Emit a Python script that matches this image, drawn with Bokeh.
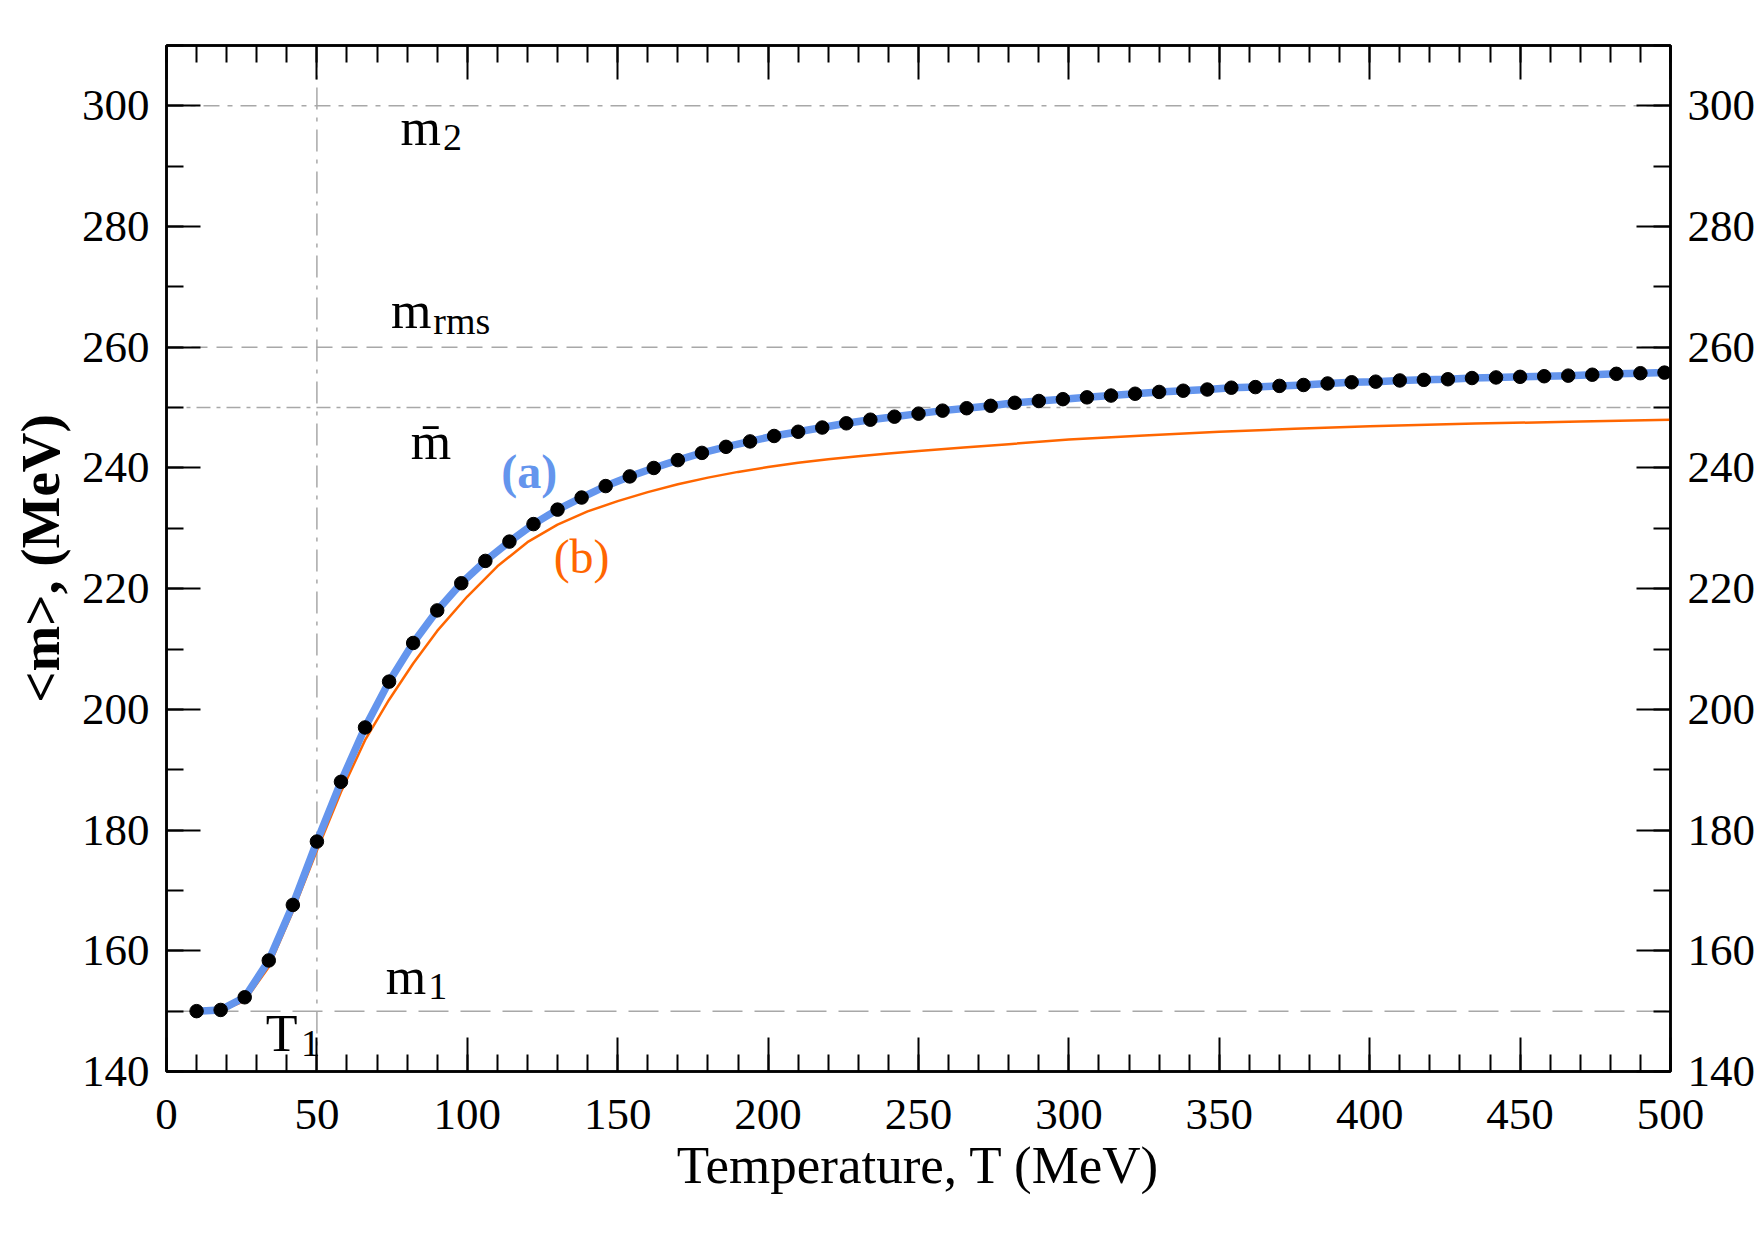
from bokeh.plotting import figure
from bokeh.models import Range1d, LinearAxis, SingleIntervalTicker, Span, Label, CustomJSTickFormatter
from bokeh.embed import file_html
from bokeh.resources import INLINE

# ---------------- data ----------------
t_dots = [10, 18, 26, 34, 42, 50, 58, 66, 74, 82,
          90, 98, 106, 114, 122, 130, 138, 146, 154, 162,
          170, 178, 186, 194, 202, 210, 218, 226, 234, 242,
          250, 258, 266, 274, 282, 290, 298, 306, 314, 322,
          330, 338, 346, 354, 362, 370, 378, 386, 394, 402,
          410, 418, 426, 434, 442, 450, 458, 466, 474, 482,
          490, 498]
m_dots = [150.0, 150.2, 152.3, 158.4, 167.6, 178.1, 188.0, 197.0, 204.6, 211.0,
          216.4, 220.9, 224.6, 227.8, 230.7, 233.1, 235.1, 237.0, 238.6, 240.0,
          241.3, 242.5, 243.5, 244.4, 245.3, 246.0, 246.7, 247.4, 248.0, 248.5,
          249.0, 249.5, 249.9, 250.3, 250.8, 251.1, 251.4, 251.7, 252.0, 252.3,
          252.6, 252.8, 253.0, 253.3, 253.4, 253.6, 253.75, 254.0, 254.2, 254.3,
          254.5, 254.6, 254.7, 254.9, 255.0, 255.1, 255.2, 255.3, 255.45, 255.6,
          255.7, 255.8]
# curve (a): passes through the dots and continues to the frame edge
t_curve_a = t_dots + [500]
m_curve_a = m_dots + [255.85]
# curve (b)
t_curve_b = [10, 18, 26, 34, 42, 50, 58, 66, 74, 82, 90, 100, 110, 120, 130,
             140, 150, 160, 170, 180, 190, 200, 210, 220, 230, 240, 250, 265,
             280, 300, 325, 350, 375, 400, 435, 470, 500]
m_curve_b = [149.9, 150.0, 151.7, 157.3, 166.5, 176.6, 186.3, 194.9, 201.6, 207.6,
             213.0, 218.7, 223.7, 227.7, 230.6, 232.8, 234.5, 236.0, 237.3, 238.4,
             239.35, 240.15, 240.85, 241.45, 241.95, 242.4, 242.8, 243.4, 243.95,
             244.7, 245.4, 246.0, 246.5, 246.9, 247.35, 247.7, 248.0]

# reference masses (horizontal guides) and temperature T1 (vertical guide)
ref_masses = [300, 260, 250, 150]
ref_dashes = ["16 8 5 8", "16 9", "14 6 4 6", "30 12"]
T1 = 50

x_ticks_major = 50
y_ticks_major = 20
x_lo, x_hi = 0, 500
y_lo, y_hi = 140, 310

FONT = "Liberation Serif"
BLUE = "#6495ed"
ORANGE = "#ff6600"
GUIDE = "#a8a8a8"

FW, FH = 1504, 1026
XPX = (x_hi - x_lo) / FW   # data units per pixel
YPX = (y_hi - y_lo) / FH

p = figure(frame_width=FW, frame_height=FH,
           x_range=Range1d(x_lo, x_hi), y_range=Range1d(y_lo, y_hi),
           output_backend="svg", toolbar_location=None,
           min_border_left=166, min_border_right=85,
           min_border_top=45, min_border_bottom=169,
           background_fill_color="white", border_fill_color="white")
p.grid.visible = False
p.outline_line_color = "black"
p.outline_line_width = 2.5


def style_axis(ax, ticker, show_labels=True, standoff=18):
    ax.ticker = ticker
    ax.axis_line_color = "black"
    ax.axis_line_width = 2.5
    ax.major_tick_in = 34
    ax.major_tick_out = 0
    ax.minor_tick_in = 17
    ax.minor_tick_out = 0
    ax.major_tick_line_width = 2
    ax.minor_tick_line_width = 2
    ax.major_tick_line_color = "black"
    ax.minor_tick_line_color = "black"
    ax.major_label_text_font = FONT
    if show_labels:
        ax.major_label_text_font_size = "45px"
        ax.major_label_text_color = "black"
        ax.major_label_standoff = standoff
    else:
        ax.major_label_text_font_size = "1px"
        ax.major_label_text_color = None
        ax.major_label_standoff = 0


xt = SingleIntervalTicker(interval=x_ticks_major, num_minor_ticks=5)
yt = SingleIntervalTicker(interval=y_ticks_major, num_minor_ticks=2)

style_axis(p.xaxis[0], xt, standoff=28)
style_axis(p.yaxis[0], yt, standoff=17)
p.xaxis[0].axis_label = "Temperature, T (MeV)"
p.xaxis[0].axis_label_text_font = FONT
p.xaxis[0].axis_label_text_font_size = "53px"
p.xaxis[0].axis_label_text_font_style = "normal"
p.xaxis[0].axis_label_text_color = "black"
p.xaxis[0].axis_label_standoff = 4

p.yaxis[0].axis_label = "<m>, (MeV)"
p.yaxis[0].axis_label_text_font = FONT
p.yaxis[0].axis_label_text_font_size = "55px"
p.yaxis[0].axis_label_text_font_style = "bold"
p.yaxis[0].axis_label_text_color = "black"
p.yaxis[0].axis_label_standoff = 8

top = LinearAxis()
style_axis(top, SingleIntervalTicker(interval=x_ticks_major, num_minor_ticks=5), show_labels=False)
top.formatter = CustomJSTickFormatter(code="return ''")
p.add_layout(top, "above")

right = LinearAxis()
style_axis(right, SingleIntervalTicker(interval=y_ticks_major, num_minor_ticks=2), standoff=17)
p.add_layout(right, "right")

# guides
for m_ref, dash in zip(ref_masses, ref_dashes):
    p.add_layout(Span(location=m_ref, dimension="width", line_color=GUIDE,
                      line_width=1.5, line_dash=dash, level="underlay"))
p.add_layout(Span(location=T1, dimension="height", line_color=GUIDE,
                  line_width=1.5, line_dash="22 8 4 8", level="underlay"))

# curves
p.line(t_curve_b, m_curve_b, line_color=ORANGE, line_width=2.5, line_join="round")
p.line(t_curve_a, m_curve_a, line_color=BLUE, line_width=7.5, line_join="round")
p.scatter(t_dots, m_dots, size=13.5, marker="circle", fill_color="black", line_color="black")

BASE_FIX = 19 * YPX   # labels sit lower than their nominal baseline


def put(x, y, text, size, color="black", style="normal"):
    p.add_layout(Label(x=x, y=y + BASE_FIX, text=text, text_font=FONT,
                       text_font_size=f"{size}px", text_color=color,
                       text_font_style=style, text_baseline="alphabetic",
                       text_align="left"))


MAIN, SUB = 52, 38
# (main letter, subscript, left x, baseline y, main advance in em)
sub_labels = [("m", "2", 77.8, 293.2, 0.778),
              ("m", "rms", 74.6, 262.9, 0.778),
              ("m", "1", 72.9, 152.6, 0.778),
              ("T", "1", 33.0, 143.2, 0.64)]
for main, sub, x0, y0, adv in sub_labels:
    put(x0, y0, main, MAIN)
    put(x0 + (adv * MAIN + 2) * XPX, y0 - 10 * YPX, sub, SUB)

put(81.2, 241.2, "m\u0304", MAIN)
put(111.3, 236.2, "(a)", 48, color=BLUE, style="bold")
put(128.7, 222.2, "(b)", 48, color=ORANGE)

open("out.html", "w").write(file_html(p, INLINE))
